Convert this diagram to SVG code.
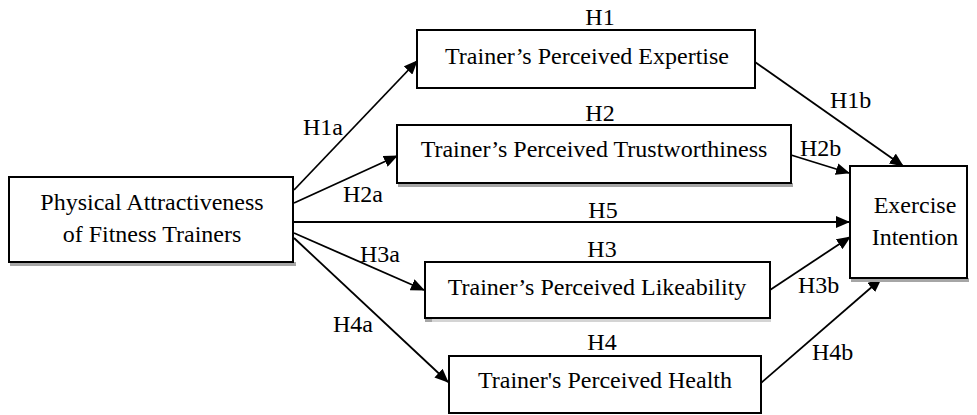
<svg xmlns="http://www.w3.org/2000/svg" width="977" height="415" viewBox="0 0 977 415" font-family="Liberation Serif, DejaVu Serif, serif">
<style>
.box{fill:#fff;stroke:#000;stroke-width:2}
.sh{fill:#a6a6a6}
.shl{fill:#d4d4d4}
text{font-family:'Liberation Serif','DejaVu Serif',serif;font-size:24px;fill:#000}
.m{text-anchor:middle}
.c{stroke:#000;stroke-width:1.8;fill:none;marker-end:url(#ah)}
</style>
<defs>
<marker id="ah" markerUnits="userSpaceOnUse" markerWidth="14" markerHeight="12" refX="13" refY="6" orient="auto">
<path d="M0,0 L14,6 L0,12 Z" fill="#000"/>
</marker>
</defs>
<rect width="977" height="415" fill="#fff"/>
<g id="connectors">
<line class="c" x1="294" y1="190" x2="417" y2="61"/>
<line class="c" x1="294" y1="203" x2="397" y2="156"/>
<line class="c" x1="294" y1="222" x2="849" y2="222"/>
<line class="c" x1="294" y1="233" x2="424" y2="290"/>
<line class="c" x1="294" y1="238" x2="448" y2="382"/>
<line class="c" x1="755" y1="62" x2="903" y2="166"/>
<line class="c" x1="791" y1="155" x2="849" y2="173"/>
<line class="c" x1="770" y1="290" x2="850" y2="237"/>
<line class="c" x1="761" y1="383" x2="881" y2="279"/>
<text x="303" y="135">H1a</text>
<text x="343" y="202">H2a</text>
<text x="360" y="262">H3a</text>
<text x="333" y="332">H4a</text>
<text x="830" y="108">H1b</text>
<text x="800" y="156">H2b</text>
<text x="798" y="293">H3b</text>
<text x="812" y="360">H4b</text>
<text class="m" x="603" y="218">H5</text>
</g>
<g id="physical">
<rect class="sh" x="10" y="262" width="286" height="4"/>
<rect class="box" x="9" y="177" width="284" height="85"/>
<text class="m" x="152" y="210">Physical Attractiveness</text>
<text class="m" x="152" y="242">of Fitness Trainers</text>
</g>
<g id="expertise">
<rect class="box" x="417" y="30" width="338" height="58"/>
<text class="m" x="587" y="64">Trainer’s Perceived Expertise</text>
<text class="m" x="600" y="25">H1</text>
</g>
<g id="trust">
<rect class="sh" x="398" y="183" width="395" height="4"/>
<rect class="box" x="397" y="125" width="394" height="58"/>
<text class="m" x="594" y="157">Trainer’s Perceived Trustworthiness</text>
<text class="m" x="600" y="121">H2</text>
</g>
<g id="like">
<rect class="shl" x="425" y="319" width="346" height="3"/>
<rect class="sh" x="425" y="319" width="7" height="3"/>
<rect class="box" x="425" y="262" width="345" height="56"/>
<text class="m" x="597" y="295">Trainer’s Perceived Likeability</text>
<text class="m" x="602" y="257">H3</text>
</g>
<g id="health">
<rect class="box" x="449" y="356" width="312" height="57"/>
<text class="m" x="605" y="388">Trainer's Perceived Health</text>
<text class="m" x="602" y="350">H4</text>
</g>
<g id="intention">
<rect class="sh" x="851" y="278" width="118" height="4"/>
<rect class="box" x="850" y="166" width="117" height="112"/>
<text class="m" x="915" y="213">Exercise</text>
<text class="m" x="915" y="245">Intention</text>
</g>
</svg>
